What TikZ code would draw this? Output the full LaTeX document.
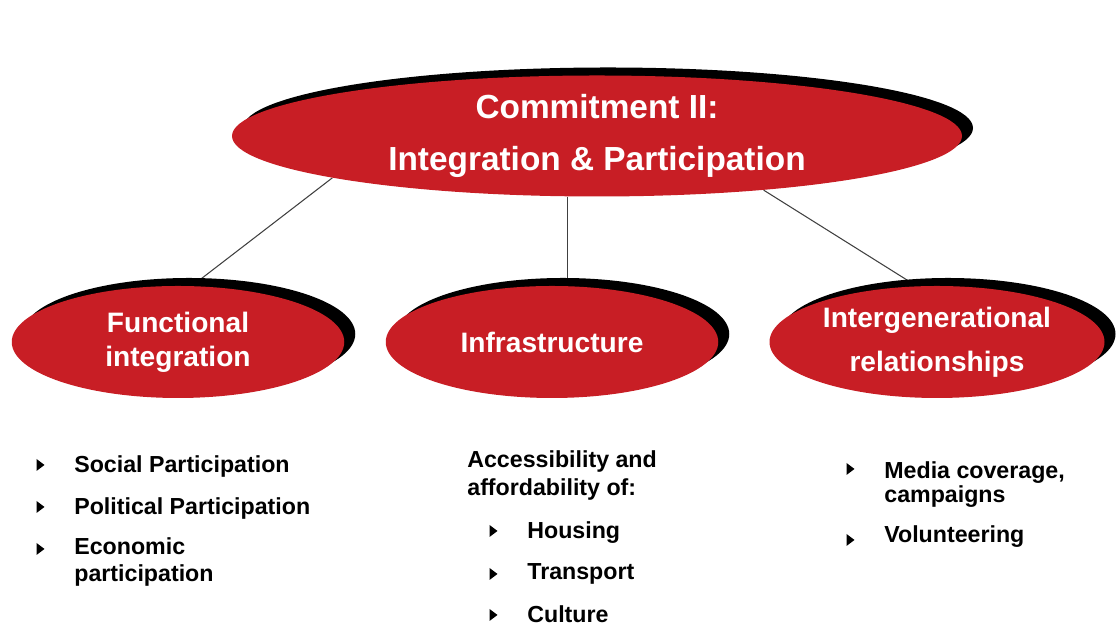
\documentclass[tikz,border=0pt]{standalone}
\usepackage{fontspec}
\setmainfont{Liberation Sans}
\usepackage{tikz}
\usetikzlibrary{shapes,shadows,backgrounds}
\definecolor{ovalred}{RGB}{200,30,37}

\begin{document}
\begin{tikzpicture}[-, oval/.style={ellipse, fill=ovalred, inner sep=0pt, text=white, align=center, general shadow={fill=black, shadow xshift=0.22cm, shadow yshift=0.16cm}}, small oval/.style={oval, minimum width=6.65cm, minimum height=2.24cm}, item/.style={anchor=base west, inner sep=0pt, align=left, font=\bfseries\fontsize{13.2}{15.5}\selectfont}, link/.style={draw=black!75, line width=0.6pt}]
\useasboundingbox (0,0) rectangle (22.36,12.74);
\node[oval, minimum width=14.6cm, minimum height=2.42cm, font=\bfseries\fontsize{19}{29.5}\selectfont] (top) at (11.94,10.02) {Commitment II:\\Integration \& Participation};
\node[small oval, font=\bfseries\fontsize{16}{19.3}\selectfont] (func) at (3.56,5.90) {Functional\\integration};
\node[small oval, font=\bfseries\fontsize{16}{19.3}\selectfont] (infra) at (11.04,5.90) {Infrastructure};
\node[small oval, minimum width=6.7cm, font=\bfseries\fontsize{16}{25}\selectfont] (inter) at (18.74,5.90) {Intergenerational\\relationships};
\begin{pgfonlayer}{background}
\path[link]
(top.189) edge (func.76)
(top.244.2) edge (top.244.2 |- infra.north)
(top.342.2) edge (inter.110);
\end{pgfonlayer}
% lists under the ovals
\node[item] (soc) at (1.48,3.28) {Social Participation};
\node[item] (pol) at (1.48,2.44) {Political Participation};
\node[item] (eco) at (1.48,1.10) {Economic\\participation};
\node[item, font=\bfseries\fontsize{13.2}{16}\selectfont] (acc) at (9.34,2.82) {Accessibility and\\affordability of:};
\node[item] (hou) at (10.54,1.96) {Housing};
\node[item] (tra) at (10.54,1.14) {Transport};
\node[item] (cul) at (10.54,0.28) {Culture};
\node[item, font=\bfseries\fontsize{13.2}{14.2}\selectfont] (med) at (17.68,2.68) {Media coverage,\\campaigns};
\node[item] (vol) at (17.68,1.88) {Volunteering};
\foreach \x/\y in {0.8/3.44, 0.8/2.60, 0.8/1.76, 9.86/2.12, 9.86/1.26, 9.86/0.44, 17.0/3.36, 17.0/1.94}
  \fill (\x-0.07,\y+0.12) -- (\x+0.09,\y) -- (\x-0.07,\y-0.12) -- cycle;
\end{tikzpicture}
\end{document}
